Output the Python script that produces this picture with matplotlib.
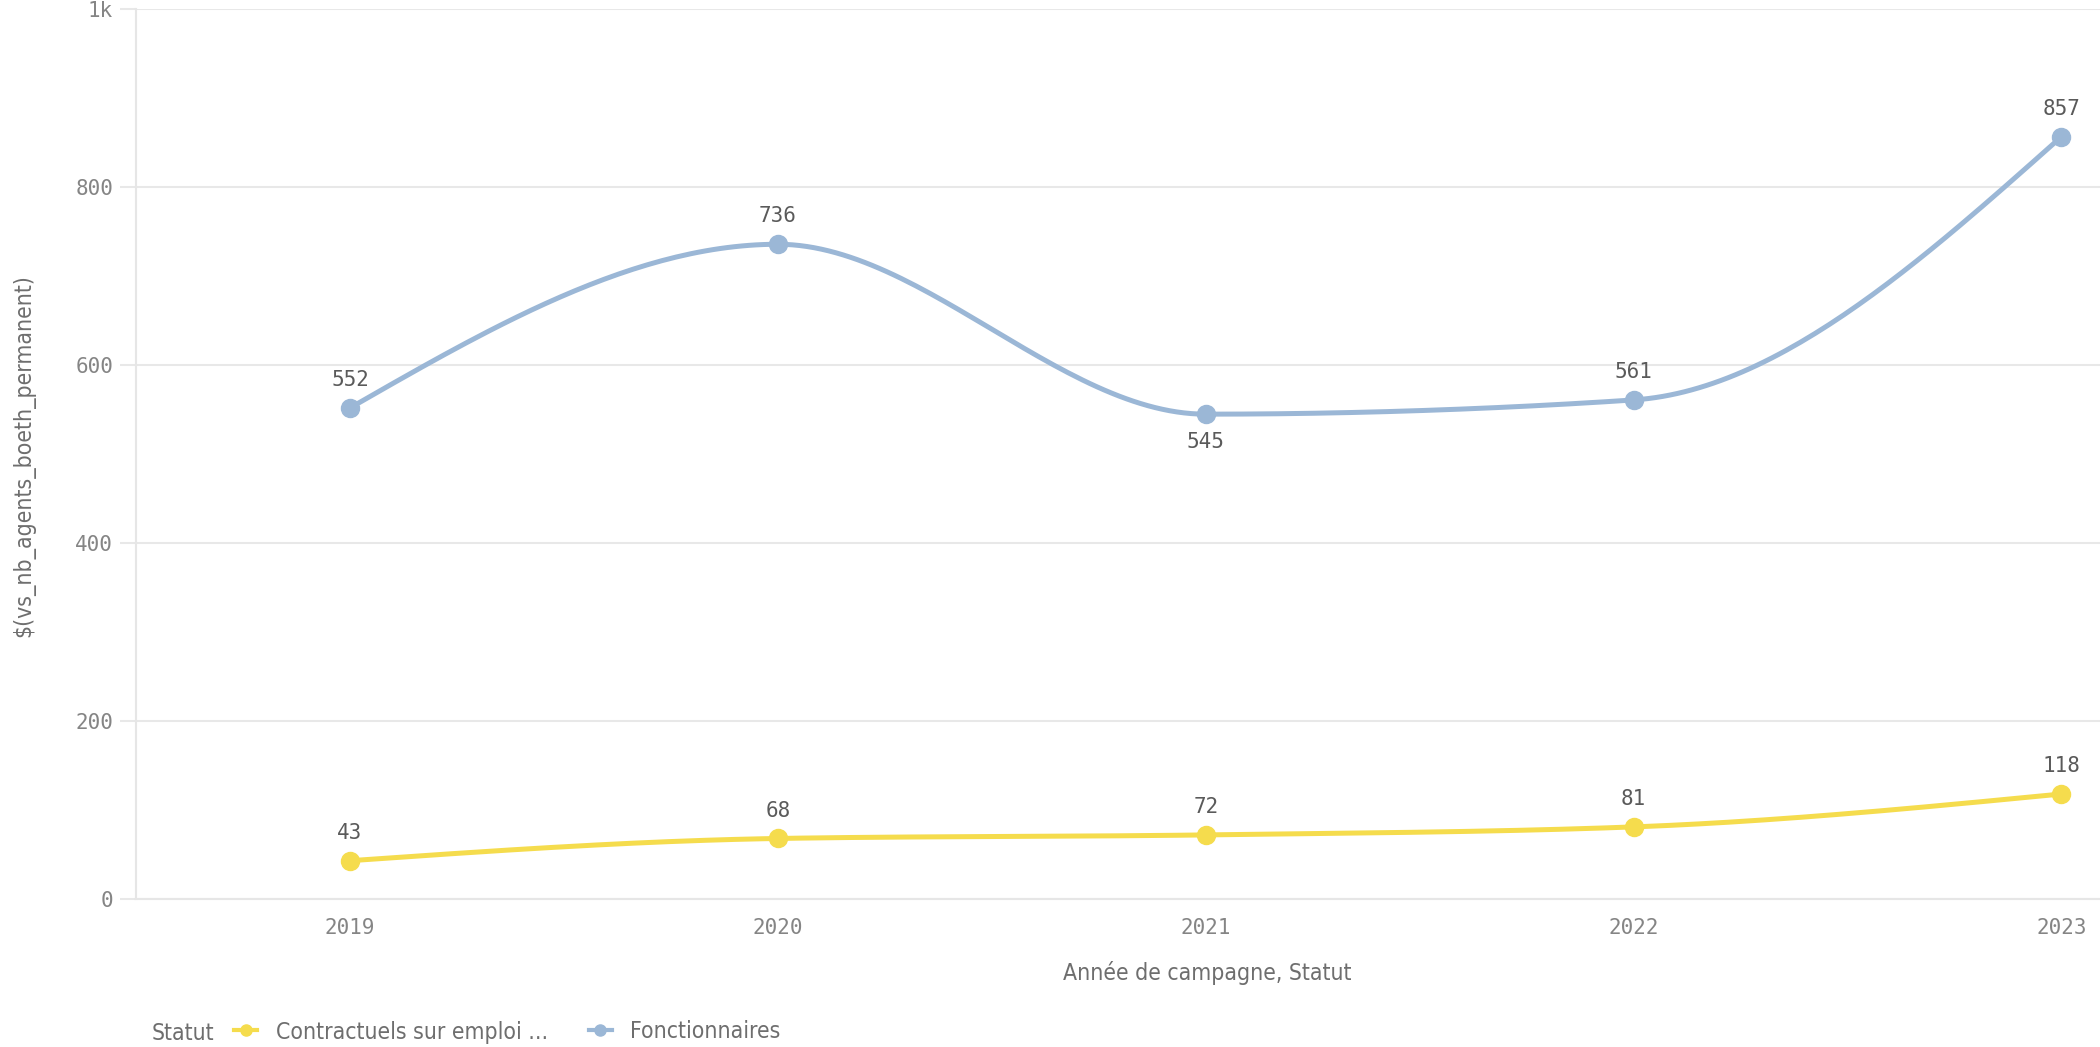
import numpy as np
import matplotlib.pyplot as plt
from matplotlib.lines import Line2D
from matplotlib.font_manager import FontProperties

# Données
annees = [2019, 2020, 2021, 2022, 2023]
contractuels = [43, 68, 72, 81, 118]
fonctionnaires = [552, 736, 545, 561, 857]
noms_series = ['Contractuels sur emploi ...', 'Fonctionnaires']
y_ticks = [0, 200, 400, 600, 800, 1000]
y_tick_labels = ['0', '200', '400', '600', '800', '1k']

jaune = '#f5dc4d'
bleu = '#9bb7d6'
police_mono = 'DejaVu Sans Mono'
texte = FontProperties(family='DejaVu Sans', stretch='condensed', size=16.5)


def courbe_monotone(x, y, n=60):
    # interpolation cubique monotone (comme curveMonotoneX)
    x = np.asarray(x, float)
    y = np.asarray(y, float)
    h = np.diff(x)
    s = np.diff(y) / h
    t = np.zeros_like(y)
    for i in range(1, len(x) - 1):
        p = (s[i - 1] * h[i] + s[i] * h[i - 1]) / (h[i - 1] + h[i])
        t[i] = (np.sign(s[i - 1]) + np.sign(s[i])) * min(abs(s[i - 1]), abs(s[i]), 0.5 * abs(p))
    t[0] = (3 * s[0] - t[1]) / 2
    t[-1] = (3 * s[-1] - t[-2]) / 2
    xs, ys = [], []
    for i in range(len(x) - 1):
        u = np.linspace(0, 1, n)
        h00 = 2 * u**3 - 3 * u**2 + 1
        h10 = u**3 - 2 * u**2 + u
        h01 = -2 * u**3 + 3 * u**2
        h11 = u**3 - u**2
        xs.append(x[i] + u * h[i])
        ys.append(h00 * y[i] + h10 * h[i] * t[i] + h01 * y[i + 1] + h11 * h[i] * t[i + 1])
    return np.concatenate(xs), np.concatenate(ys)


fig = plt.figure(figsize=(21, 10.47), dpi=100)
ax = fig.add_axes([0.0648, 0.1414, 0.9352, 0.8496])

for valeurs, couleur in [(contractuels, jaune), (fonctionnaires, bleu)]:
    xs, ys = courbe_monotone(annees, valeurs)
    ax.plot(xs, ys, color=couleur, linewidth=3.6, solid_capstyle='round', zorder=3)
    ax.plot(annees, valeurs, 'o', color=couleur, markersize=13, zorder=4)

# étiquettes de valeurs
for valeurs in (contractuels, fonctionnaires):
    for i, (a, v) in enumerate(zip(annees, valeurs)):
        dessous = 0 < i < len(valeurs) - 1 and v < valeurs[i - 1] and v < valeurs[i + 1]
        ax.annotate(str(v), (a, v), xytext=(0, -20 if dessous else 20),
                    textcoords='offset points', ha='center', va='center',
                    fontsize=15, family=police_mono, color='#5a5a5a', zorder=5)

ax.set_xlim(2018.5, 2023.09)
ax.set_ylim(0, 1000)
ax.set_xticks(annees)
ax.set_xticklabels([str(a) for a in annees])
ax.set_yticks(y_ticks)
ax.set_yticklabels(y_tick_labels)
ax.grid(axis='y', color='#e8e8e8', linewidth=1.5)
ax.set_axisbelow(True)

for cote in ['top', 'right']:
    ax.spines[cote].set_visible(False)
ax.spines['left'].set_color('#e6e6e6')
ax.spines['left'].set_linewidth(1.5)
ax.spines['bottom'].set_color('#e6e6e6')
ax.spines['bottom'].set_linewidth(1.5)

ax.tick_params(axis='y', length=11.5, width=1.5, color='#e8e8e8', pad=5,
               labelsize=15, labelcolor='#858585')
ax.tick_params(axis='x', length=0, pad=14, labelsize=15, labelcolor='#858585')
for lab in ax.get_xticklabels() + ax.get_yticklabels():
    lab.set_family(police_mono)

fig.text(0.0115, 0.565, '$(vs_nb_agents_boeth_permanent)', rotation=90,
         ha='center', va='center', fontproperties=texte, color='#6e6e6e')
fig.text(0.575, 1 - 973 / 1047, 'Année de campagne, Statut', ha='center', va='center',
         fontproperties=texte, color='#6e6e6e')

# légende
fig.text(0.0724, 1 - 1033 / 1047, 'Statut', ha='left', va='center',
         fontproperties=texte, color='#6e6e6e')
poignees = [Line2D([], [], color=c, linewidth=3, marker='o', markersize=8)
            for c in (jaune, bleu)]
leg = fig.legend(poignees, noms_series, loc='center left',
                 bbox_to_anchor=(0.1116, 1 - 1032 / 1047), ncol=2, frameon=False,
                 borderpad=0, borderaxespad=0,
                 handlelength=1.0, handletextpad=0.8, columnspacing=1.8,
                 prop=texte)
for t in leg.get_texts():
    t.set_color('#6e6e6e')

fig.savefig('out.png', dpi=100, facecolor='white')
